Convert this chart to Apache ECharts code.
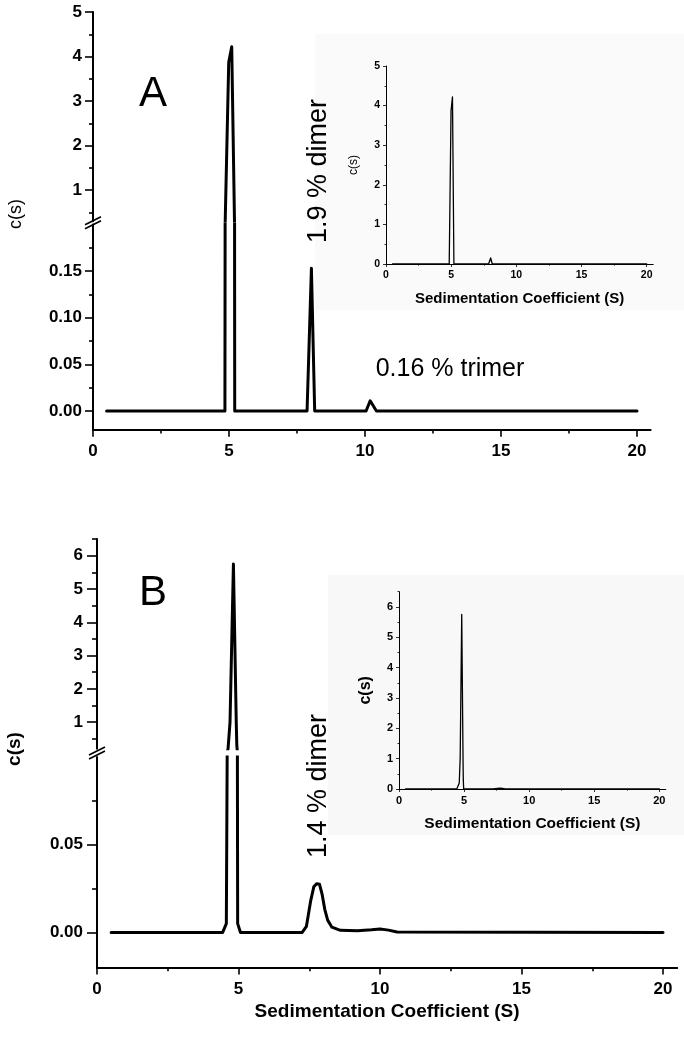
<!DOCTYPE html>
<html><head><meta charset="utf-8">
<script src="https://cdn.jsdelivr.net/npm/echarts@6/dist/echarts.min.js"></script>
<style>html,body{margin:0;padding:0;background:#fff}#c{width:684px;height:1044px}</style>
</head><body><div id="c"></div>
<script>
// ---- data ----
const sedA = [0.5, 4.85, 4.99, 5.10, 5.21, 7.87, 8.03, 8.15, 10.04, 10.19, 10.42, 20.0];
const csA  = [0,   0,    3.87, 4.22, 0,    0,    0.153, 0,   0,     0.011, 0,     0];
const sedB = [0.5, 4.44, 4.57, 4.63, 4.70, 4.82, 4.92, 4.94, 4.97, 5.07, 7.25, 7.40, 7.55, 7.66, 7.76, 7.86, 7.95, 8.05, 8.15, 8.30, 8.60, 9.20, 9.70, 10.0, 10.3, 10.6, 20.0];
const csB  = [0,   0,    0.005, 0.2, 1.0,  5.75, 1.0,  0.3,  0.005, 0,   0,    0.0035, 0.018, 0.026, 0.0278, 0.0275, 0.022, 0.013, 0.007, 0.003, 0.0012, 0.001, 0.0015, 0.002, 0.0013, 0.0002, 0];

const xTickVals = [0, 5, 10, 15, 20];
const xMinorVals = [2.5, 7.5, 12.5, 17.5];
const yTicksAUp = [1, 2, 3, 4, 5];
const yMinorAUp = [0.5, 1.5, 2.5, 3.5, 4.5];
const yTicksALo = [0, 0.05, 0.10, 0.15];
const yMinorALo = [0.025, 0.075, 0.125, 0.175];
const yTicksBUp = [1, 2, 3, 4, 5, 6];
const yMinorBUp = [0.5, 1.5, 2.5, 3.5, 4.5, 5.5, 6.5];
const yTicksBLo = [0, 0.05];
const yMinorBLo = [0.025, 0.075];
const insetTicksA = [0, 1, 2, 3, 4, 5];
const insetMinorA = [0.5, 1.5, 2.5, 3.5, 4.5];
const insetTicksB = [0, 1, 2, 3, 4, 5, 6];
const insetMinorB = [0.5, 1.5, 2.5, 3.5, 4.5, 5.5, 6.5];

const FONT = '"Liberation Sans", Arial, sans-serif';
const chart = echarts.init(document.getElementById('c'), null, {renderer: 'canvas'});

// grids
const grids = [
  {left: 93,  top: 12,    width: 557.6, height: 209.2}, // 0 A upper
  {left: 93,  top: 224.4, width: 557.6, height: 205.3}, // 1 A lower
  {left: 386, top: 66,    width: 267.2, height: 198},   // 2 inset A
  {left: 97,  top: 539,   width: 580.2, height: 209.8}, // 3 B upper
  {left: 97,  top: 757,   width: 580.2, height: 210.5}, // 4 B lower
  {left: 399, top: 591.7, width: 266.8, height: 197.3}  // 5 inset B
];

const xAxes = [], yAxes = [];
function axisBase(grid, min, max) {
  return {type: 'value', gridIndex: grid, min: min, max: max, splitLine: {show: false}, axisLine: {onZero: false}};
}
function addX(grid, show, opt) {
  opt = opt || {};
  const lw = opt.lw || 2, fs = opt.fs || 17;
  const main = Object.assign(axisBase(grid, 0, 20.5), {
    position: 'bottom', show: show,
    axisLine: {show: true, onZero: false, lineStyle: {color: '#000', width: lw}},
    axisTick: {show: true, customValues: xTickVals, length: opt.tl || 7, lineStyle: {color: '#000', width: lw * 0.8}},
    axisLabel: {show: true, customValues: xTickVals, margin: opt.lm || 13, color: '#000', fontFamily: FONT, fontWeight: 'bold', fontSize: fs},
    name: opt.name || '', nameLocation: 'middle', nameGap: opt.ng || 30,
    nameTextStyle: {color: '#000', fontFamily: FONT, fontWeight: 'bold', fontSize: opt.nfs || 16}
  });
  xAxes.push(main);
  const idx = xAxes.length - 1;
  if (show) {
    xAxes.push(Object.assign(axisBase(grid, 0, 20.5), {
      position: 'bottom',
      axisLine: {show: false, onZero: false},
      axisTick: {show: true, customValues: xMinorVals, length: (opt.tl || 7) * 0.55, lineStyle: {color: '#000', width: lw * 0.8}},
      axisLabel: {show: false}
    }));
  }
  return idx;
}
function addY(grid, min, max, ticks, minors, opt) {
  opt = opt || {};
  const lw = opt.lw || 2;
  yAxes.push(Object.assign(axisBase(grid, min, max), {
    position: 'left',
    axisLine: {show: true, onZero: false, lineStyle: {color: '#000', width: lw}},
    axisTick: {show: true, customValues: ticks, length: opt.tl || 8, lineStyle: {color: '#000', width: lw * 0.8}},
    axisLabel: {show: true, customValues: ticks, margin: opt.lm || 11, color: '#000', fontFamily: FONT, fontWeight: 'bold', fontSize: opt.fs || 17,
      formatter: opt.fmt || function (v) { return String(v); }},
    name: opt.name || '', nameLocation: 'middle', nameGap: opt.ng || 30, nameRotate: 90,
    nameTextStyle: {color: '#000', fontFamily: FONT, fontWeight: opt.nfw || 'normal', fontSize: opt.nfs || 12}
  }));
  const idx = yAxes.length - 1;
  yAxes.push(Object.assign(axisBase(grid, min, max), {
    position: 'left',
    axisLine: {show: false, onZero: false},
    axisTick: {show: true, customValues: minors, length: (opt.tl || 8) * 0.5, lineStyle: {color: '#000', width: lw * 0.8}},
    axisLabel: {show: false}
  }));
  return idx;
}
const fmt2 = v => v.toFixed(2);

const pairs = (xs, ys) => xs.map((x, i) => [x, ys[i]]);
const dataA = pairs(sedA, csA), dataB = pairs(sedB, csB);

const series = [];
function addSeries(grid, xi, yi, data, w) {
  series.push({type: 'line', xAxisIndex: xi, yAxisIndex: yi, data: data, symbol: 'none', clip: true,
    lineStyle: {color: '#000', width: w, join: 'round', cap: 'round'}, z: 3, animation: false});
}

// A upper
let xi = addX(0, false), yi = addY(0, 0.3, 5, yTicksAUp, yMinorAUp, {});
addSeries(0, xi, yi, dataA, 3);
// A lower
xi = addX(1, true, {}); yi = addY(1, -0.02, 0.2, yTicksALo, yMinorALo, {fmt: fmt2});
addSeries(1, xi, yi, dataA, 3);
// inset A
xi = addX(2, true, {lw: 1, fs: 10.5, tl: 3, lm: 6, name: 'Sedimentation Coefficient (S)', ng: 27, nfs: 15});
yi = addY(2, 0, 5, insetTicksA, insetMinorA, {lw: 1, fs: 10.5, tl: 3, lm: 6, name: 'c(s)', ng: 26, nfs: 12});
addSeries(2, xi, yi, dataA, 1.3);
// B upper
xi = addX(3, false); yi = addY(3, 0.2, 6.5, yTicksBUp, yMinorBUp, {tl: 10, lm: 14});
addSeries(3, xi, yi, dataB, 3);
// B lower
xi = addX(4, true, {name: 'Sedimentation Coefficient (S)', ng: 35, nfs: 19}); yi = addY(4, -0.02, 0.1, yTicksBLo, yMinorBLo, {fmt: fmt2, tl: 10, lm: 14});
addSeries(4, xi, yi, dataB, 3);
// inset B
xi = addX(5, true, {lw: 1, fs: 11, tl: 3, lm: 6, name: 'Sedimentation Coefficient (S)', ng: 27, nfs: 15.5});
yi = addY(5, 0, 6.5, insetTicksB, insetMinorB, {lw: 1, fs: 11, tl: 3, lm: 6, name: 'c(s)', ng: 25, nfs: 16, nfw: 'bold'});
addSeries(5, xi, yi, dataB, 1.3);

function breakMark(x, y) {
  return [
    {type: 'line', z: 50, shape: {x1: x - 8, y1: y + 6, x2: x + 8, y2: y - 2}, style: {stroke: '#000', lineWidth: 1.6}},
    {type: 'line', z: 50, shape: {x1: x - 8, y1: y + 2, x2: x + 8, y2: y - 6}, style: {stroke: '#000', lineWidth: 1.6}}
  ];
}
function txt(t, x, y, font, rot) {
  return {type: 'text', z: 60, x: x, y: y, rotation: rot || 0,
    style: {text: t, font: font, fill: '#000', align: 'center', verticalAlign: 'middle'}};
}

const graphics = [
  {type: 'rect', z: -5, shape: {x: 315, y: 34, width: 369, height: 276}, style: {fill: '#fafafa'}},
  {type: 'rect', z: -5, shape: {x: 328, y: 575, width: 356, height: 260}, style: {fill: '#f8f8f8'}},
  ...breakMark(93, 222.8),
  ...breakMark(97, 753),
  txt('A', 153, 94, 'normal 42px ' + FONT),
  txt('B', 153, 593, 'normal 42px ' + FONT),
  txt('1.9 % dimer', 319, 171, 'normal 27px ' + FONT, Math.PI / 2),
  txt('1.4 % dimer', 319, 786, 'normal 27px ' + FONT, Math.PI / 2),
  txt('0.16 % trimer', 450, 369, 'normal 25px ' + FONT),
  txt('c(s)', 16, 214, 'normal 18px ' + FONT, Math.PI / 2),
  txt('c(s)', 15, 749, 'bold 19px ' + FONT, Math.PI / 2)
];

chart.setOption({
  animation: false,
  backgroundColor: '#fff',
  grid: grids.map(g => Object.assign({containLabel: false}, g)),
  xAxis: xAxes,
  yAxis: yAxes,
  series: series,
  graphic: {elements: graphics}
});
</script></body></html>
